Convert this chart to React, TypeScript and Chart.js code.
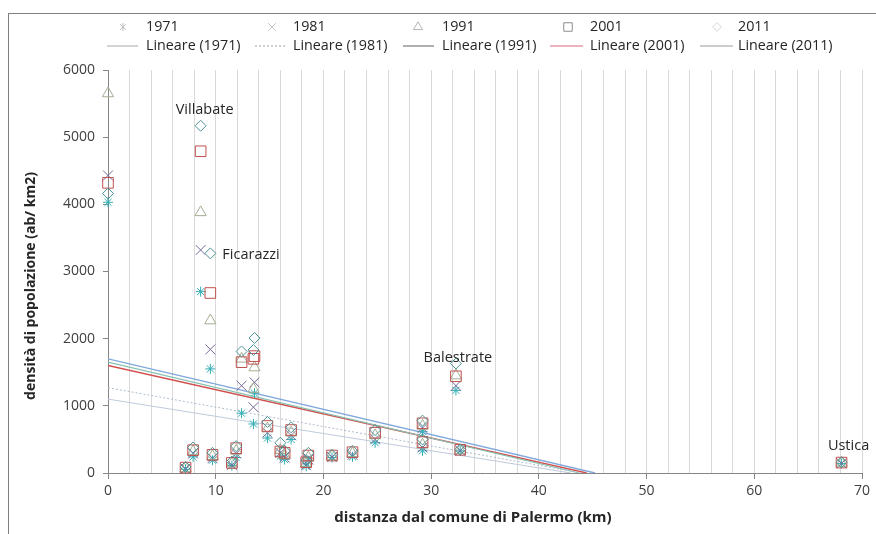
import React, { useEffect, useRef } from "react";
import { Chart, registerables } from "chart.js";

Chart.register(...registerables);

// ---------------- data ----------------
const anni = ["1971", "1981", "1991", "2001", "2011"];

const nomiComuni = [
  "Palermo", "Villabate", "Ficarazzi", "", "", "", "", "", "", "", "", "", "",
  "", "", "", "", "", "", "", "", "", "Balestrate", "", "Ustica",
];

const distanzeKm = [
  0, 8.6, 9.5, 12.4, 13.6, 13.5, 7.2, 7.9, 9.7, 11.5, 11.9, 14.8, 16.0,
  16.4, 17.0, 18.4, 18.6, 20.8, 22.7, 24.8, 29.2, 29.2, 32.3, 32.7, 68.1,
];

const densita1971 = [
  4030, 2700, 1550, 890, 1190, 730, 55, 240, 190, 110, 230, 520, 250,
  200, 500, 100, 180, 230, 240, 450, 620, 330, 1230, 330, 140,
];
const densita1981 = [
  4430, 3320, 1840, 1300, 1350, 980, 65, 290, 220, 120, 290, 600, 300,
  230, 560, 120, 200, 240, 270, 500, 670, 380, 1300, 335, 145,
];
const densita1991 = [
  5650, 3880, 2270, 1700, 1570, 1250, 70, 320, 250, 140, 330, 660, 340,
  260, 600, 140, 230, 250, 290, 560, 700, 420, 1450, 340, 150,
];
const densita2001 = [
  4320, 4790, 2680, 1650, 1740, 1700, 80, 340, 270, 150, 370, 700, 320,
  300, 640, 160, 260, 260, 310, 600, 740, 460, 1440, 345, 155,
];
const densita2011 = [
  4160, 5170, 3270, 1810, 2010, 1830, 90, 380, 300, 170, 400, 760, 450,
  330, 680, 190, 300, 270, 330, 640, 780, 500, 1630, 350, 160,
];
const densitaPerAnno = [densita1971, densita1981, densita1991, densita2001, densita2011];

// linear trend lines: y = a + b*x
const trendIntercetta = [1100, 1270, 1650, 1600, 1700];
const trendPendenza = [-25.6, -28.9, -37.7, -36.0, -37.6];

// ---------------- styles ----------------
const FONT = "'Open Sans', 'DejaVu Sans', sans-serif";
const markerStyles = ["star", "crossRot", "triangle", "rect", "rectRot"];
const markerColors = ["#31aeb4", "#76689a", "#a3ad92", "#c0504d", "#4e9294"];
const markerRadius = [5, 7, 6.5, 7.5, 5.5];
const legendMarkerColors = ["#bdbdbd", "#c4c4c4", "#b4b4b4", "#8c8c8c", "#d6d6d6"];
const trendColors = ["#bfcadb", "#aebbcc", "#86c2b2", "#d2504e", "#7fa8dc"];
const trendDash: number[][] = [[], [2, 2], [], [], []];
const trendWidths = [1, 1, 1.2, 1.4, 1.4];
const legendTrendColors = ["#a8a8a8", "#a0a0a0", "#606060", "#d46a78", "#9a9a9a"];

const labelOffsets: Record<string, { dx: number; dy: number; align: CanvasTextAlign }> = {
  Villabate: { dx: 4, dy: -16, align: "center" },
  Ficarazzi: { dx: 12, dy: 2, align: "left" },
  Balestrate: { dx: 2, dy: -6, align: "center" },
  Ustica: { dx: 7, dy: -16, align: "center" },
};

function drawMarker(ctx: CanvasRenderingContext2D, style: string, x: number, y: number, r: number, color: string) {
  ctx.save();
  ctx.strokeStyle = color;
  ctx.lineWidth = 1;
  ctx.beginPath();
  if (style === "star") {
    ctx.moveTo(x, y - r); ctx.lineTo(x, y + r);
    ctx.moveTo(x - r * 0.7, y - r * 0.7); ctx.lineTo(x + r * 0.7, y + r * 0.7);
    ctx.moveTo(x + r * 0.7, y - r * 0.7); ctx.lineTo(x - r * 0.7, y + r * 0.7);
  } else if (style === "crossRot") {
    const s = r * 0.7;
    ctx.moveTo(x - s, y - s); ctx.lineTo(x + s, y + s);
    ctx.moveTo(x + s, y - s); ctx.lineTo(x - s, y + s);
  } else if (style === "triangle") {
    ctx.moveTo(x, y - r);
    ctx.lineTo(x + r * 0.866, y + r * 0.5);
    ctx.lineTo(x - r * 0.866, y + r * 0.5);
    ctx.closePath();
  } else if (style === "rect") {
    const s = r * 0.707;
    ctx.rect(x - s, y - s, 2 * s, 2 * s);
  } else {
    ctx.moveTo(x, y - r); ctx.lineTo(x + r, y); ctx.lineTo(x, y + r); ctx.lineTo(x - r, y); ctx.closePath();
  }
  ctx.stroke();
  ctx.restore();
}

const overlayPlugin = {
  id: "overlay",
  afterDraw(chart: any) {
    const ctx: CanvasRenderingContext2D = chart.ctx;
    const xs = chart.scales.x;
    const ys = chart.scales.y;
    const ox = 9, oy = 14; // canvas offset within page
    // legend
    const colMarker = [123, 272, 418, 568, 717];
    const colText = [146, 293, 442, 590, 738];
    const lineStart = [107, 255, 403, 550, 700];
    const lineEnd = [138, 287, 434, 583, 733];
    ctx.save();
    ctx.font = `14.3px ${FONT}`;
    ctx.fillStyle = "#262626";
    ctx.textBaseline = "middle";
    ctx.textAlign = "left";
    for (let i = 0; i < anni.length; i++) {
      drawMarker(ctx, markerStyles[i], colMarker[i] - ox, 27 - oy, markerRadius[i] * 0.8, legendMarkerColors[i]);
      ctx.fillText(anni[i], colText[i] - ox, 27 - oy);
      ctx.save();
      ctx.strokeStyle = legendTrendColors[i];
      ctx.lineWidth = 1;
      ctx.setLineDash(trendDash[i]);
      ctx.beginPath();
      ctx.moveTo(lineStart[i] - ox, 46 - oy);
      ctx.lineTo(lineEnd[i] - ox, 46 - oy);
      ctx.stroke();
      ctx.restore();
      ctx.fillText(`Lineare (${anni[i]})`, colText[i] - ox, 46 - oy);
    }
    // point labels
    ctx.font = `14.5px ${FONT}`;
    ctx.fillStyle = "#262626";
    for (let i = 0; i < nomiComuni.length; i++) {
      const nome = nomiComuni[i];
      const off = labelOffsets[nome];
      if (!off) continue;
      const px = xs.getPixelForValue(distanzeKm[i]);
      const py = ys.getPixelForValue(densita2011[i]);
      ctx.textAlign = off.align;
      ctx.fillText(nome, px + off.dx, py + off.dy);
    }
    // axis titles
    ctx.font = `bold 15px ${FONT}`;
    ctx.fillStyle = "#262626";
    ctx.textAlign = "center";
    ctx.fillText("distanza dal comune di Palermo (km)", 473 - ox, 518 - oy);
    ctx.font = `bold 14px ${FONT}`;
    ctx.save();
    ctx.translate(31 - ox, 286 - oy);
    ctx.rotate(-Math.PI / 2);
    ctx.fillText("densità di popolazione (ab/ km2)", 0, 0);
    ctx.restore();
    ctx.restore();
  },
};

export default function App() {
  const canvasRef = useRef<HTMLCanvasElement | null>(null);

  useEffect(() => {
    document.documentElement.style.overflow = "hidden";
    document.body.style.overflow = "hidden";
    if (!canvasRef.current) return;

    const pointDatasets = anni.map((anno, i) => ({
      label: anno,
      data: distanzeKm.map((x, k) => ({ x, y: densitaPerAnno[i][k] })),
      pointStyle: markerStyles[i],
      pointRadius: markerRadius[i],
      pointBorderWidth: 1,
      borderColor: markerColors[i],
      backgroundColor: "rgba(0,0,0,0)",
      showLine: false,
      clip: false,
      order: 5 - i,
    }));

    const trendDatasets = anni.map((anno, i) => {
      const a = trendIntercetta[i];
      const b = trendPendenza[i];
      const xEnd = -a / b;
      return {
        label: `Lineare (${anno})`,
        data: [
          { x: 0, y: a },
          { x: xEnd, y: 0 },
        ],
        showLine: true,
        pointRadius: 0,
        borderColor: trendColors[i],
        borderWidth: trendWidths[i],
        borderDash: trendDash[i],
        backgroundColor: trendColors[i],
        order: 10,
      };
    });

    const chart = new Chart(canvasRef.current, {
      type: "scatter",
      data: { datasets: [...pointDatasets, ...trendDatasets] as any },
      options: {
        responsive: false,
        animation: false,
        layout: { padding: { top: 56, right: 14, left: 0, bottom: 0 } },
        plugins: {
          legend: { display: false },
          tooltip: { enabled: false },
        },
        scales: {
          x: {
            type: "linear",
            min: 0,
            max: 70,
            afterFit: (s: any) => { s.height = 53; },
            border: { color: "#868686" },
            grid: {
              color: (c: any) => (c.tick && c.tick.value === 0 ? "rgba(0,0,0,0)" : "#d9d9d9"),
              tickColor: (c: any) => (c.tick && c.tick.value % 10 === 0 ? "#868686" : "rgba(0,0,0,0)"),
              tickLength: 6,
            },
            ticks: {
              stepSize: 2,
              autoSkip: false,
              maxRotation: 0,
              padding: 4,
              color: "#404040",
              font: { family: FONT, size: 14 },
              callback: (v: any) => (Number(v) % 10 === 0 ? String(v) : ""),
            },
          },
          y: {
            type: "linear",
            min: 0,
            max: 6000,
            afterFit: (s: any) => { s.width = 99; },
            border: { color: "#868686" },
            grid: { drawOnChartArea: false, tickLength: 5, color: "#868686" },
            ticks: {
              stepSize: 1000,
              padding: 8,
              color: "#404040",
              font: { family: FONT, size: 14 },
              callback: (v: any) => String(v),
            },
          },
        },
      },
      plugins: [overlayPlugin],
    });

    return () => chart.destroy();
  }, []);

  return (
    <div
      style={{
        position: "fixed",
        left: 8,
        top: 13,
        width: 868,
        height: 521,
        boxSizing: "border-box",
        borderTop: "1px solid #7f7f7f",
        borderLeft: "1px solid #7f7f7f",
        overflow: "hidden",
        background: "#fff",
      }}
    >
      <canvas ref={canvasRef} width={867} height={512} style={{ display: "block" }} />
    </div>
  );
}
